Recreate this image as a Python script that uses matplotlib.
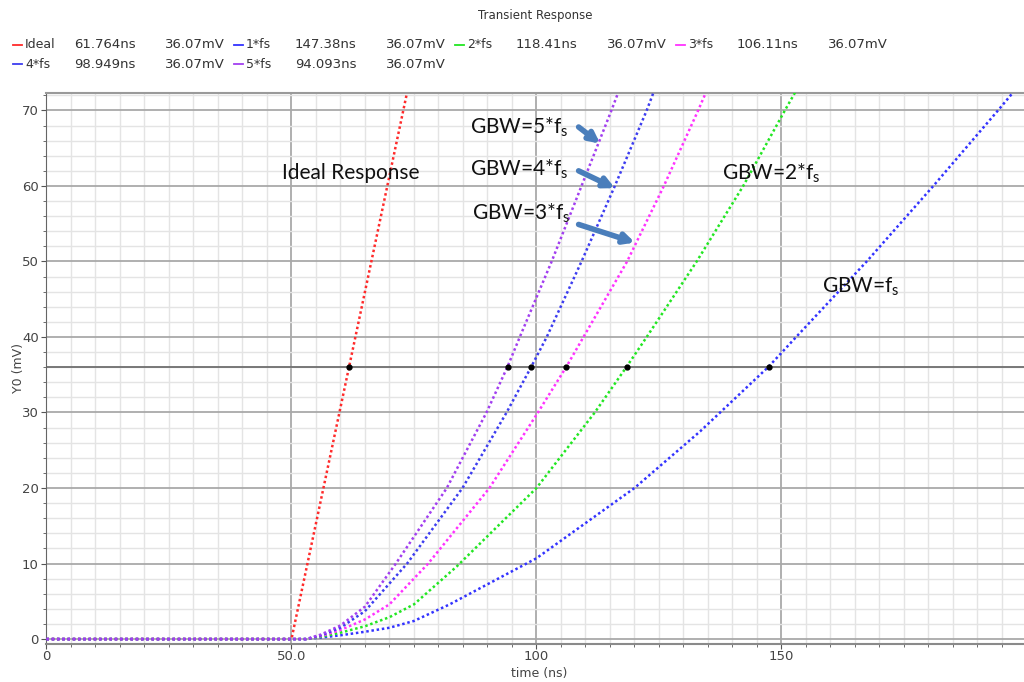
import matplotlib
matplotlib.use('Agg')
import matplotlib.pyplot as plt
from matplotlib import rc
from matplotlib.ticker import MultipleLocator
rc('mathtext', default='regular')

# cursor readout at 36.07 mV
names = ["Ideal", "1*fs", "2*fs", "3*fs", "4*fs", "5*fs"]
cross_t = [61.764, 147.38, 118.41, 106.11, 98.949, 94.093]
cross_v = 36.07

t_ideal = [0, 50, 61.764, 73.6]
v_ideal = [0, 0, 36.07, 72.4]

t_1 = [0, 53, 56, 60, 65, 70, 75, 82.3, 100, 120, 133.4, 147.38, 153, 167.4, 181, 194.2, 197.3]
v_1 = [0, 0, 0.2, 0.5, 0.97, 1.5, 2.4, 4.6, 10.7, 20, 27.5, 36.07, 40, 50, 60, 70, 72.4]

t_2 = [0, 53, 56, 60, 65, 70, 75, 83.7, 100, 111.9, 118.41, 122.5, 132.7, 142.2, 150.7, 152.8]
v_2 = [0, 0, 0.3, 0.85, 1.7, 2.9, 4.6, 9.6, 20, 30, 36.07, 40, 50, 60, 70, 72.4]

t_3 = [0, 53, 56, 60, 65, 70, 77.9, 90.4, 100.3, 106.11, 109.6, 118.5, 126.0, 133.0, 134.6]
v_3 = [0, 0, 0.4, 1.2, 2.6, 4.6, 10, 20, 30, 36.07, 40, 50, 60, 70, 72.4]

t_4 = [0, 53, 56, 60, 65, 73.6, 84.9, 93.9, 98.949, 102.1, 109.2, 116.0, 122.5, 123.9]
v_4 = [0, 0, 0.5, 1.5, 3.7, 10, 20, 30, 36.07, 40, 50, 60, 70, 72.4]

t_5 = [0, 53, 56, 60, 65, 71.3, 81.7, 89.8, 94.093, 96.6, 103.1, 109.2, 115.3, 116.7]
v_5 = [0, 0, 0.6, 1.8, 4.3, 10, 20, 30, 36.07, 40, 50, 60, 70, 72.4]

xticks = [0, 50, 100, 150]
xticklabels = ['0', '50.0', '100', '150']

colors = ['#ff2a2a', '#3333ff', '#22e622', '#ff33ff', '#3d3df0', '#a23ff0']
curves = [(t_ideal, v_ideal), (t_1, v_1), (t_2, v_2), (t_3, v_3), (t_4, v_4), (t_5, v_5)]

fig = plt.figure(figsize=(10.24, 6.82), dpi=100)
ax = fig.add_axes([0.0454, 0.0563, 0.9546, 0.8073])

ax.axhline(cross_v, color='#6e6e6e', lw=1.3, zorder=2)
for (t, v), c in zip(curves, colors):
    ax.plot(t, v, color=c, ls=(0, (1, 1.1)), lw=1.8, zorder=3)
ax.plot(cross_t, [cross_v] * len(cross_t), 'o', color='black', ms=3.5, zorder=4)

ax.set_xlim(0, 199.5)
ax.set_ylim(-0.6, 72.3)
ax.set_xticks(xticks)
ax.set_xticklabels(xticklabels)
ax.xaxis.set_minor_locator(MultipleLocator(5))
ax.yaxis.set_major_locator(MultipleLocator(10))
ax.yaxis.set_minor_locator(MultipleLocator(2))
ax.grid(which='major', color='#a9a9a9', lw=1.3, zorder=0)
ax.grid(which='minor', color='#e4e4e4', lw=1.0, zorder=0)
ax.set_axisbelow(True)
ax.tick_params(which='both', direction='out', colors='#555555', labelsize=9.5, labelcolor='#444444')
ax.tick_params(which='major', length=3.5)
ax.tick_params(which='minor', length=2)
ax.tick_params(axis='x', pad=1)
ax.tick_params(axis='y', pad=2)
ax.spines['right'].set_visible(False)
ax.spines['left'].set_color('#666666')
ax.spines['bottom'].set_color('#8a8a8a')
ax.spines['bottom'].set_linewidth(1.5)
ax.spines['top'].set_color('#9a9a9a')
ax.spines['top'].set_linewidth(1.5)
ax.set_xlabel('time (ns)', fontsize=9, color='#444444', va='center')
ax.xaxis.set_label_coords(0.504, -0.054)
ax.set_ylabel('Y0 (mV)', fontsize=9, color='#444444', va='center')
ax.yaxis.set_label_coords(-0.029, 0.5)

# annotations
afont = dict(fontsize=15, family='Lato', color='#111111', va='baseline')
ax.text(48.1, 60.9, 'Ideal Response', **afont)
ax.text(86.4, 66.9, 'GBW=5*f$_s$', **afont)
ax.text(86.4, 61.4, 'GBW=4*f$_s$', **afont)
ax.text(86.8, 55.5, 'GBW=3*f$_s$', **afont)
ax.text(137.8, 60.8, 'GBW=2*f$_s$', **afont)
ax.text(158.3, 45.9, 'GBW=f$_s$', **afont)
arrows = [((108.6, 67.8), (113.0, 65.6)),
          ((108.6, 62.0), (116.0, 59.7)),
          ((108.6, 54.9), (120.1, 52.5))]
for start, tip in arrows:
    ax.annotate('', xy=tip, xytext=start,
                arrowprops=dict(arrowstyle='-|>', color='#4a7ebb', lw=4,
                                mutation_scale=15, shrinkA=0, shrinkB=0), zorder=5)

# header
W, H = 1024.0, 682.0
fig.text(535.5 / W, 1 - 16 / H, 'Transient Response', fontsize=8.5, color='#333333',
         ha='center', va='center')
for i, (nm, ct, c) in enumerate(zip(names, cross_t, colors)):
    row, col = divmod(i, 4)
    x0 = 13 + 221 * col
    y0 = 1 - (45 + 19 * row) / H
    fig.add_artist(plt.Line2D([x0 / W, (x0 + 9) / W], [y0, y0], color=c, lw=1.3))
    fig.text((x0 + 12) / W, y0, nm, fontsize=9, color='#333333', va='center')
    fig.text((x0 + 61) / W, y0, '%gns' % ct, fontsize=9.5, color='#333333', va='center')
    fig.text((x0 + 152) / W, y0, '%.2fmV' % cross_v, fontsize=9.5, color='#333333', va='center')

fig.savefig('out.png', dpi=100)
